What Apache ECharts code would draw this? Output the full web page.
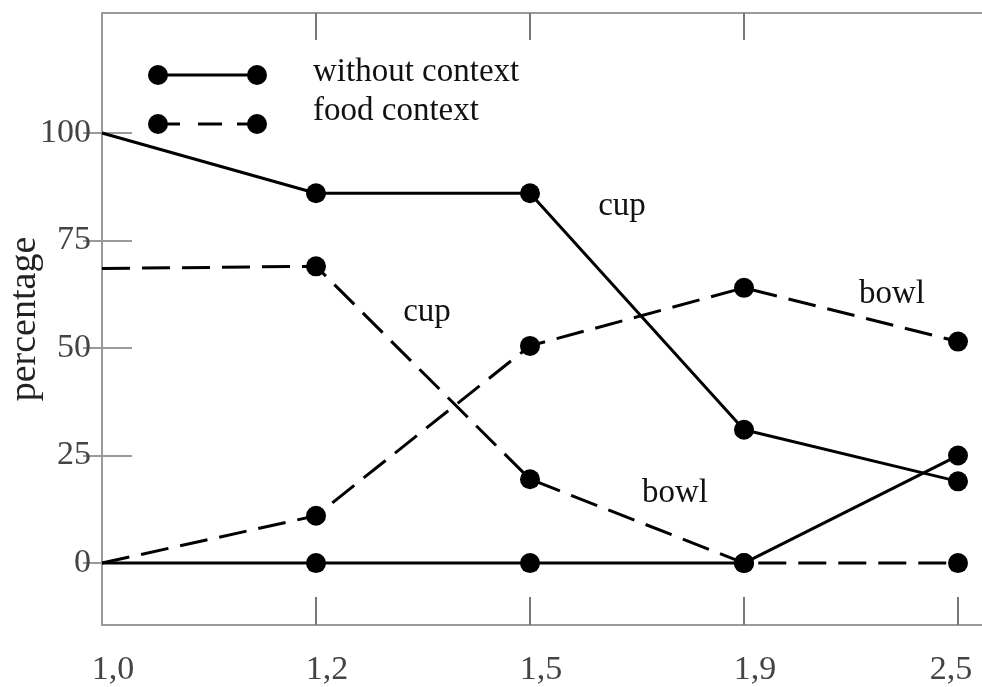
<!DOCTYPE html>
<html>
<head>
<meta charset="utf-8">
<script src="https://cdn.jsdelivr.net/npm/echarts@6/dist/echarts.min.js"></script>
<style>
html,body{margin:0;padding:0;background:#fff;}
#chart{width:982px;height:687px;}
</style>
</head>
<body>
<div id="chart"></div>
<script>
// ---- data ----
const categories = ['1,0', '1,2', '1,5', '1,9', '2,5'];
const withoutCup  = [100, 86, 86, 31, 19];
const withoutBowl = [0, 0, 0, 0, 25];
const foodCup     = [68.5, 69, 19.5, 0, 0];
const foodBowl    = [0, 11, 50.5, 64, 51.5];
const yTicks = [0, 25, 50, 75, 100];
const legendNames = ['without context', 'food context'];
const annotations = [
  { text: 'cup',  x: 622, y: 206 },
  { text: 'cup',  x: 427, y: 312 },
  { text: 'bowl', x: 892, y: 294 },
  { text: 'bowl', x: 675, y: 493 }
];

const FONT = '"Liberation Serif", "Times New Roman", serif';
const AXIS_GRAY = '#9a9a9a';

function toPoints(arr) {
  return arr.map((v, i) => i === 0 ? { value: [i, v], symbol: 'none' } : { value: [i, v] });
}

function makeSeries(name, arr, dashed) {
  return {
    name: name,
    type: 'line',
    xAxisIndex: 0,
    yAxisIndex: 0,
    data: toPoints(arr),
    symbol: 'circle',
    symbolSize: 20,
    showAllSymbol: true,
    clip: false,
    itemStyle: { color: '#000' },
    lineStyle: { color: '#000', width: 3, type: dashed ? [28, 12] : 'solid' },
    emphasis: { disabled: true },
    animation: false
  };
}

const X_MAX = 880 / 214;
const Y_MIN = -14.4, Y_MAX = 127.9;

// legend key drawn as graphic elements (line with a dot at each end)
function legendKey(y, segments, label, textY) {
  const els = segments.map(s => ({
    type: 'line', silent: true,
    shape: { x1: s[0], y1: y, x2: s[1], y2: y },
    style: { stroke: '#000', lineWidth: 3 }
  }));
  els.push({ type: 'circle', silent: true, shape: { cx: 158, cy: y, r: 10 }, style: { fill: '#000' } });
  els.push({ type: 'circle', silent: true, shape: { cx: 257, cy: y, r: 10 }, style: { fill: '#000' } });
  els.push({ type: 'text', silent: true, x: 313, y: textY,
    style: { text: label, font: '33px ' + FONT, fill: '#111', align: 'left', verticalAlign: 'middle' } });
  return els;
}

const graphics = []
  .concat(legendKey(75, [[158, 257]], legendNames[0], 72))
  .concat(legendKey(124, [[158, 180], [198, 222], [237, 257]], legendNames[1], 111))
  .concat(annotations.map(a => ({
    type: 'text', x: a.x, y: a.y, silent: true,
    style: { text: a.text, font: '33px ' + FONT, fill: '#111', align: 'center', verticalAlign: 'middle' }
  })));

const labelRich = {
  s: { fontFamily: FONT, fontSize: 34, color: '#444', padding: [0, 0, 0, 22] },
  e: { fontFamily: FONT, fontSize: 34, color: '#444', padding: [0, 14, 0, 0] }
};

const option = {
  backgroundColor: '#fff',
  animation: false,
  grid: { left: 102, right: 0, top: 13, bottom: 62, containLabel: false, outerBoundsMode: 'none' },
  xAxis: [
    {
      type: 'value', position: 'bottom', min: 0, max: X_MAX,
      axisLine: { show: true, onZero: false, lineStyle: { color: AXIS_GRAY, width: 2 } },
      axisTick: { show: true, inside: true, length: 28, customValues: [1, 2, 3, 4], lineStyle: { color: '#777', width: 2 } },
      axisLabel: {
        show: true, customValues: [0, 1, 2, 3, 4],
        formatter: v => { const i = Math.round(v); return (i < 4 ? '{s|' : '{e|') + categories[i] + '}'; },
        rich: labelRich, fontFamily: FONT, fontSize: 34, color: '#444', margin: 28,
        showMaxLabel: true, hideOverlap: false
      },
      splitLine: { show: false }
    },
    {
      type: 'value', position: 'top', min: 0, max: X_MAX,
      axisLine: { show: true, onZero: false, lineStyle: { color: AXIS_GRAY, width: 2 } },
      axisTick: { show: true, inside: true, length: 27, customValues: [1, 2, 3], lineStyle: { color: '#777', width: 2 } },
      axisLabel: { show: false },
      splitLine: { show: false }
    }
  ],
  yAxis: [
    {
      type: 'value', position: 'left', min: Y_MIN, max: Y_MAX,
      name: 'percentage', nameLocation: 'middle', nameGap: 58, nameMoveOverlap: false,
      nameTextStyle: { fontFamily: FONT, fontSize: 38, color: '#222' },
      axisLine: { show: true, onZero: false, lineStyle: { color: AXIS_GRAY, width: 2 } },
      axisTick: { show: true, inside: true, length: 30, customValues: yTicks.slice(1), lineStyle: { color: AXIS_GRAY, width: 2 } },
      axisLabel: { show: true, customValues: yTicks, fontFamily: FONT, fontSize: 34, color: '#444', margin: 11 },
      splitLine: { show: false }
    },
    {
      type: 'value', position: 'right', min: Y_MIN, max: Y_MAX,
      axisLine: { show: false },
      axisTick: { show: true, inside: true, length: 19, customValues: yTicks, lineStyle: { color: AXIS_GRAY, width: 2 } },
      axisLabel: { show: false },
      splitLine: { show: false }
    }
  ],
  series: [
    makeSeries(legendNames[0], withoutCup, false),
    makeSeries(legendNames[0], withoutBowl, false),
    makeSeries(legendNames[1], foodCup, true),
    makeSeries(legendNames[1], foodBowl, true)
  ],
  graphic: graphics
};

const chart = echarts.init(document.getElementById('chart'), null, { renderer: 'canvas' });
chart.setOption(option);
</script>
</body>
</html>
